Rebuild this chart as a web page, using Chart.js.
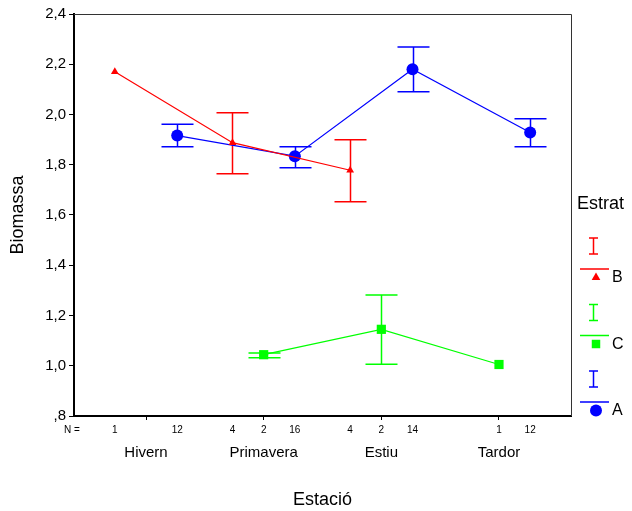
<!DOCTYPE html>
<html lang="ca">
<head>
<meta charset="UTF-8">
<title>Biomassa per estació</title>
<style>
  body { margin: 0; background: #fff; }
  #wrap { width: 632px; height: 511px; }
</style>
</head>
<body>
<div id="wrap"><canvas id="chart"></canvas></div>
<script src="https://cdn.jsdelivr.net/npm/chart.js"></script>
<script>
// values
const categories = ['Hivern', 'Primavera', 'Estiu', 'Tardor'];
const groups = ['B', 'C', 'A'];

const meanB  = [2.170, 1.888, 1.778, null];
const lowB   = [null, 1.764, 1.653, null];
const highB  = [null, 2.007, 1.900, null];
const countB = [1, 4, 4, null];

const meanC  = [null, 1.044, 1.145, 1.005];
const lowC   = [null, 1.032, 1.006, null];
const highC  = [null, 1.051, 1.282, null];
const countC = [null, 2, 2, 1];

const meanA  = [1.916, 1.834, 2.180, 1.928];
const lowA   = [1.872, 1.788, 2.091, 1.872];
const highA  = [1.961, 1.872, 2.269, 1.983];
const countA = [12, 16, 14, 12];

const yTicks = [0.8, 1.0, 1.2, 1.4, 1.6, 1.8, 2.0, 2.2, 2.4];

const FONT = '"Liberation Sans", Arial, sans-serif';

// each group is shifted a little left/right of the category centre
const series = [
    { name: 'B', mean: meanB, low: lowB, high: highB, n: countB, shift: -0.265, color: '#ff0000', shape: 'triangle', radius: 4.5 },
    { name: 'C', mean: meanC, low: lowC, high: highC, n: countC, shift: 0,      color: '#00ff00', shape: 'rect',     radius: 6.5 },
    { name: 'A', mean: meanA, low: lowA, high: highA, n: countA, shift: 0.265,  color: '#0000ff', shape: 'circle',   radius: 6 }
];

function fmt(v) {
    return v.toFixed(1).replace('.', ',').replace(/^0/, '');
}

const datasets = series.map(s => ({
    label: s.name,
    data: s.mean.map((v, i) => v === null ? null : { x: i + s.shift, y: v }).filter(p => p),
    showLine: true,
    borderColor: s.color,
    backgroundColor: s.color,
    borderWidth: 1.2,
    pointStyle: s.shape,
    pointRadius: s.radius,
    pointBorderWidth: 0,
    pointBackgroundColor: s.color
}));

const errorBars = {
    id: 'errorBars',
    beforeDatasetsDraw(chart) {
        const ctx = chart.ctx;
        const xs = chart.scales.x, ys = chart.scales.y;
        ctx.save();
        ctx.lineWidth = 1.5;
        series.forEach(s => {
            ctx.strokeStyle = s.color;
            s.mean.forEach((v, i) => {
                if (s.low[i] === null) return;
                const x = Math.round(xs.getPixelForValue(i + s.shift)) + 0.5;
                const y1 = ys.getPixelForValue(s.low[i]);
                const y2 = ys.getPixelForValue(s.high[i]);
                ctx.beginPath();
                ctx.moveTo(x, y1); ctx.lineTo(x, y2);
                ctx.moveTo(x - 16, y1); ctx.lineTo(x + 16, y1);
                ctx.moveTo(x - 16, y2); ctx.lineTo(x + 16, y2);
                ctx.stroke();
            });
        });
        ctx.restore();
    }
};

function drawMarker(ctx, shape, x, y, r) {
    ctx.beginPath();
    if (shape === 'triangle') {
        ctx.moveTo(x, y - r);
        ctx.lineTo(x + r * 0.866, y + r / 2);
        ctx.lineTo(x - r * 0.866, y + r / 2);
        ctx.closePath();
    } else if (shape === 'rect') {
        const h = r * Math.SQRT1_2;
        ctx.rect(x - h, y - h, 2 * h, 2 * h);
    } else {
        ctx.arc(x, y, r, 0, Math.PI * 2);
    }
    ctx.fill();
}

const extras = {
    id: 'extras',
    afterDraw(chart) {
        const ctx = chart.ctx;
        const area = chart.chartArea;
        const xs = chart.scales.x;
        ctx.save();

        // top and right frame
        ctx.strokeStyle = '#333';
        ctx.lineWidth = 1;
        ctx.beginPath();
        ctx.moveTo(area.left, area.top + 0.5);
        ctx.lineTo(area.right + 0.5, area.top + 0.5);
        ctx.lineTo(area.right + 0.5, area.bottom);
        ctx.stroke();

        // N = row
        ctx.fillStyle = '#000';
        ctx.font = '10px ' + FONT;
        ctx.textAlign = 'center';
        ctx.textBaseline = 'middle';
        ctx.fillText('N =', 72, 430);
        series.forEach(s => {
            s.n.forEach((n, i) => {
                if (n === null) return;
                ctx.fillText(String(n), xs.getPixelForValue(i + s.shift), 430);
            });
        });

        // legend
        ctx.textAlign = 'left';
        ctx.font = '18px ' + FONT;
        ctx.fillText('Estrat', 577, 204);
        ctx.font = '16px ' + FONT;
        series.forEach((s, k) => {
            const top = 238 + k * 66.5;
            ctx.strokeStyle = s.color;
            ctx.fillStyle = s.color;
            ctx.lineWidth = 1.5;
            ctx.beginPath();
            ctx.moveTo(593.5, top); ctx.lineTo(593.5, top + 16);
            ctx.moveTo(589, top); ctx.lineTo(598, top);
            ctx.moveTo(589, top + 16); ctx.lineTo(598, top + 16);
            ctx.moveTo(580, top + 31); ctx.lineTo(609, top + 31);
            ctx.stroke();
            drawMarker(ctx, s.shape, 596, top + 39.5, s.shape === 'triangle' ? 5 : 6);
            ctx.fillStyle = '#000';
            ctx.fillText(s.name, 612, top + 40);
        });
        ctx.restore();
    }
};

new Chart(document.getElementById('chart'), {
    type: 'scatter',
    data: { datasets: datasets },
    options: {
        responsive: true,
        maintainAspectRatio: false,
        animation: false,
        layout: { padding: { top: 14, right: 61, left: 0, bottom: 0 } },
        plugins: {
            legend: { display: false },
            tooltip: { enabled: false }
        },
        scales: {
            x: {
                type: 'linear',
                min: -0.612,
                max: 3.612,
                afterBuildTicks: scale => { scale.ticks = categories.map((c, i) => ({ value: i })); },
                afterFit: scale => { scale.height = 95; },
                ticks: {
                    callback: v => categories[v],
                    color: '#000',
                    padding: 24,
                    maxRotation: 0,
                    font: { family: FONT, size: 15 }
                },
                grid: { drawOnChartArea: false, tickLength: 4, color: '#000' },
                border: { color: '#000', width: 2 },
                title: {
                    display: true,
                    text: 'Estació',
                    color: '#000',
                    padding: { top: 0, bottom: 0 },
                    font: { family: FONT, size: 18 }
                }
            },
            y: {
                min: 0.8,
                max: 2.4,
                afterBuildTicks: scale => { scale.ticks = yTicks.map(v => ({ value: v })); },
                afterFit: scale => { scale.width = 74; },
                ticks: {
                    callback: v => fmt(v),
                    color: '#000',
                    padding: 3,
                    font: { family: FONT, size: 15 }
                },
                grid: { drawOnChartArea: false, tickLength: 5, color: '#000' },
                border: { color: '#000', width: 2 },
                title: {
                    display: true,
                    text: 'Biomassa',
                    color: '#000',
                    padding: { top: 7, bottom: 0 },
                    font: { family: FONT, size: 18 }
                }
            }
        }
    },
    plugins: [errorBars, extras]
});
</script>
</body>
</html>
